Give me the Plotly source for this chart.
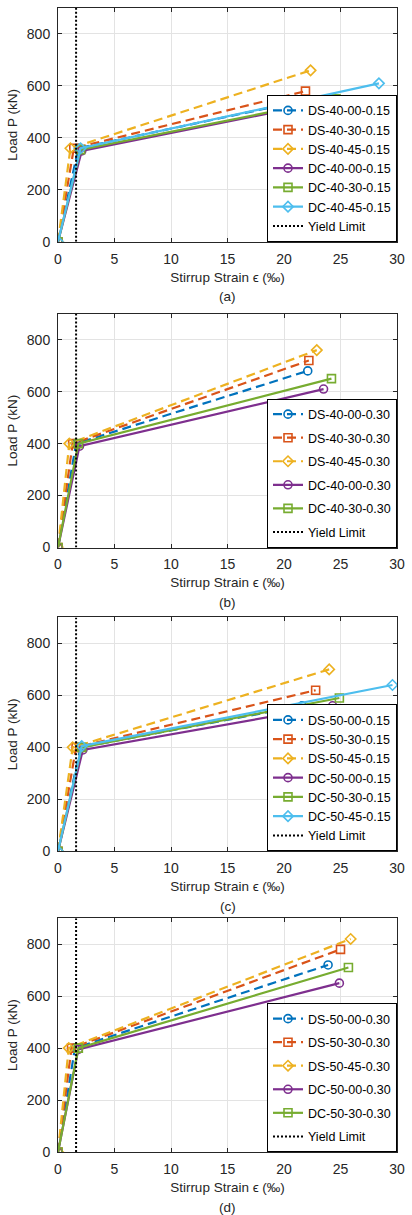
import plotly.graph_objects as go

# ---------------- data ----------------
YIELD_STRAIN = 1.6
yield_x = [YIELD_STRAIN, YIELD_STRAIN]
yield_y = [0, 900]

# panel (a)
names_a = ["DS-40-00-0.15", "DS-40-30-0.15", "DS-40-45-0.15",
           "DC-40-00-0.15", "DC-40-30-0.15", "DC-40-45-0.15"]
strain_a = [[0, 1.8, 21.3], [0, 1.4, 21.9], [0, 1.1, 22.35],
            [0, 2.1, 23.9], [0, 2.0, 24.6], [0, 2.0, 28.4]]
load_a = [[0, 360, 540], [0, 360, 580], [0, 360, 660],
          [0, 350, 540], [0, 355, 550], [0, 360, 610]]

# panel (b)
names_b = ["DS-40-00-0.30", "DS-40-30-0.30", "DS-40-45-0.30",
           "DC-40-00-0.30", "DC-40-30-0.30"]
strain_b = [[0, 1.6, 22.1], [0, 1.3, 22.2], [0, 1.0, 22.9],
            [0, 1.9, 23.5], [0, 1.8, 24.2]]
load_b = [[0, 400, 680], [0, 400, 720], [0, 400, 760],
          [0, 390, 610], [0, 400, 650]]

# panel (c)
names_c = ["DS-50-00-0.15", "DS-50-30-0.15", "DS-50-45-0.15",
           "DC-50-00-0.15", "DC-50-30-0.15", "DC-50-45-0.15"]
strain_c = [[0, 2.0, 21.6], [0, 1.6, 22.8], [0, 1.3, 24.0],
            [0, 2.2, 24.3], [0, 2.1, 24.9], [0, 2.1, 29.6]]
load_c = [[0, 400, 560], [0, 400, 620], [0, 400, 700],
          [0, 390, 560], [0, 400, 590], [0, 405, 640]]

# panel (d)
names_d = ["DS-50-00-0.30", "DS-50-30-0.30", "DS-50-45-0.30",
           "DC-50-00-0.30", "DC-50-30-0.30"]
strain_d = [[0, 1.5, 23.9], [0, 1.2, 25.0], [0, 0.95, 25.9],
            [0, 1.8, 24.9], [0, 1.8, 25.7]]
load_d = [[0, 400, 720], [0, 400, 780], [0, 400, 820],
          [0, 395, 650], [0, 400, 710]]

x_ticks = [0, 5, 10, 15, 20, 25, 30]
y_ticks = [0, 200, 400, 600, 800]
panel_tags = ["(a)", "(b)", "(c)", "(d)"]

# ---------------- styles ----------------
COLORS = ["#0072BD", "#D95319", "#EDB120", "#7E2F8E", "#77AC30", "#4DBEEE"]
SYMBOLS = ["circle-open", "square-open", "diamond-open",
           "circle-open", "square-open", "diamond-open"]
FONT = "Liberation Sans, Arial, sans-serif"
TXT = "#262626"

W, H = 412, 1215
ML, MR, MT, MB = 58, 8, 7, 63
plot_h = H - MT - MB
# pixel (top, bottom) of each panel's plotting area
panel_px = [(7, 241), (313, 547), (617, 851), (918, 1152)]


def frac(py):
    return (H - MB - py) / plot_h


fig = go.Figure()
panels = [(names_a, strain_a, load_a), (names_b, strain_b, load_b),
          (names_c, strain_c, load_c), (names_d, strain_d, load_d)]

layout = dict(
    width=W, height=H,
    margin=dict(l=ML, r=MR, t=MT, b=MB),
    paper_bgcolor="white", plot_bgcolor="white",
    font=dict(family=FONT, color=TXT, size=14),
    showlegend=True,
)
annotations = []

for i, (names, xs, ys) in enumerate(panels):
    k = "" if i == 0 else str(i + 1)
    xa, ya = "x" + k, "y" + k
    leg = "legend" + k
    for j, nm in enumerate(names):
        dashed = nm.startswith("DS")
        fig.add_trace(go.Scatter(
            x=xs[j], y=ys[j], name=nm, xaxis=xa, yaxis=ya, legend=leg,
            legendgroup=f"{i}-{j}",
            mode="lines+markers",
            line=dict(color=COLORS[j], width=2.2,
                      dash="9px,5px" if dashed else "solid"),
            marker=dict(symbol=SYMBOLS[j], size=8, color=COLORS[j],
                        line=dict(width=1.6, color=COLORS[j])),
        ))
    fig.add_trace(go.Scatter(
        x=yield_x, y=yield_y, name="Yield Limit", xaxis=xa, yaxis=ya,
        legend=leg, legendgroup=f"{i}-y", mode="lines",
        line=dict(color="black", width=2, dash="2px,2px"),
    ))

    top, bot = panel_px[i]
    layout["xaxis" + k] = dict(
        domain=[0, 1], anchor=ya, range=[0, 30], tickvals=x_ticks,
        showgrid=True, gridcolor="#e3e3e3", gridwidth=1,
        zeroline=False, showline=True, linecolor=TXT, linewidth=1,
        mirror="ticks", ticks="inside", ticklen=4, tickcolor=TXT,
        tickfont=dict(size=14, color=TXT), ticklabelstandoff=4,
        title=dict(text="Stirrup Strain \u03f5 (\u2030)",
                   font=dict(size=13.5, color=TXT), standoff=6),
    )
    layout["yaxis" + k] = dict(
        domain=[frac(bot), frac(top)], anchor=xa, range=[0, 900],
        tickvals=y_ticks,
        showgrid=True, gridcolor="#e3e3e3", gridwidth=1,
        zeroline=False, showline=True, linecolor=TXT, linewidth=1,
        mirror="ticks", ticks="inside", ticklen=4, tickcolor=TXT,
        tickfont=dict(size=14, color=TXT), ticklabelstandoff=4,
        title=dict(text="Load P (kN)", font=dict(size=13.5, color=TXT),
                   standoff=6),
    )
    gap = 4.3 if len(names) == 5 else 0
    layout[leg] = dict(
        x=1, xanchor="right", y=frac(bot), yanchor="bottom",
        bgcolor="white", bordercolor="black", borderwidth=1,
        font=dict(size=12.5, color="black", family=FONT),
        tracegroupgap=gap, traceorder="grouped",
    )
    annotations.append(dict(
        text=panel_tags[i], xref="paper", yref="paper",
        x=0.5, y=frac(bot), xanchor="center", yanchor="middle",
        yshift=-55, showarrow=False, font=dict(size=13.5, color=TXT),
    ))

layout["annotations"] = annotations
fig.update_layout(**layout)
fig.write_html("out.html")
